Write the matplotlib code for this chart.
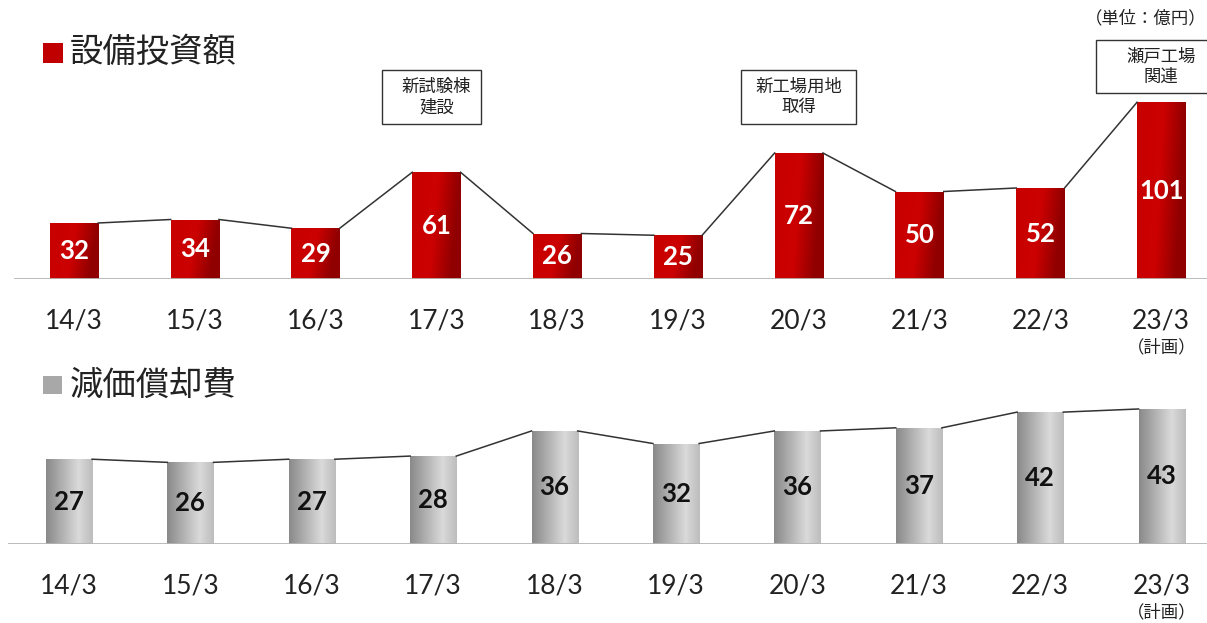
import numpy as np
import matplotlib
matplotlib.use('Agg')
import matplotlib.pyplot as plt
from matplotlib.colors import LinearSegmentedColormap
from matplotlib.patches import Rectangle

plt.rcParams['font.family'] = ['Noto Sans CJK JP', 'DejaVu Sans']

years = ['14/3', '15/3', '16/3', '17/3', '18/3', '19/3', '20/3', '21/3', '22/3', '23/3']
capex = [32, 34, 29, 61, 26, 25, 72, 50, 52, 101]
depreciation = [27, 26, 27, 28, 36, 32, 36, 37, 42, 43]
notes = {3: '新試験棟\n建設', 6: '新工場用地\n取得', 9: '瀬戸工場\n関連'}

W, H = 1207, 623
fig = plt.figure(figsize=(W / 100, H / 100), dpi=100)


def px_axes(left, base, right, height):
    # axes placed in pixel units measured from the top-left corner
    return fig.add_axes([left / W, 1 - base / H, (right - left) / W, height / H])


def px_rect(x0, y0, x1, y1, **kw):
    fig.patches.append(Rectangle((x0 / W, 1 - y1 / H), (x1 - x0) / W, (y1 - y0) / H,
                                 transform=fig.transFigure, **kw))


red_cmap = LinearSegmentedColormap.from_list(
    'red', [(0, '#c80000'), (0.55, '#cc0000'), (1, '#900000')])
gray_cmap = LinearSegmentedColormap.from_list(
    'gray', [(0, '#8a8a8a'), (0.7, '#dadada'), (1, '#bdbdbd')])


def gradient_bars(ax, values, width, cmap, shade):
    bars = ax.bar(range(len(values)), values, width=width, color='none', zorder=2)
    grad = np.tile(np.linspace(0, 1, 64), (64, 1))
    if shade:
        # slight darkening towards the bottom of each bar
        grad = np.clip(grad + np.linspace(0.2, 0, 64)[:, None], 0, 1)
    for b in bars:
        x0, y0 = b.get_x(), b.get_y()
        im = ax.imshow(grad, cmap=cmap, vmin=0, vmax=1, aspect='auto',
                       extent=(x0, x0 + b.get_width(), y0, y0 + b.get_height()),
                       origin='lower', zorder=2)
        im.set_clip_path(b)
    # thin connector lines between the tops of neighbouring bars
    for i in range(len(values) - 1):
        ax.plot([i + width / 2, i + 1 - width / 2], [values[i], values[i + 1]],
                color='#333333', lw=1.1, zorder=3)
    return bars


def style_axes(ax, xmax, ymax):
    ax.set_xlim(-0.5, xmax)
    ax.set_ylim(0, ymax)
    for s in ax.spines.values():
        s.set_visible(False)
    ax.axhline(0, color='#b4b4b4', lw=2, zorder=4)
    ax.set_yticks([])
    ax.set_xticks(range(len(years)), years)
    ax.tick_params(axis='x', length=0, pad=21, labelsize=19, labelcolor='#222222')
    for t in ax.get_xticklabels():
        t.set_fontfamily(['Lato', 'DejaVu Sans'])
    ax.annotate('（計画）', xy=(9, 0), xytext=(0, -49), textcoords='offset points',
                ha='center', va='center', fontsize=12.5, color='#222222')


def value_labels(ax, values, color):
    for i, v in enumerate(values):
        ax.text(i, v / 2, str(v), ha='center', va='center', color=color,
                fontsize=18.5, fontweight='bold', family=['Lato', 'DejaVu Sans'], zorder=5)


# capital expenditure
step_top = 120.8
ax1 = px_axes(74 - step_top / 2, 279, W, 120 * 1.75)
style_axes(ax1, (W - 74) / step_top, 120)
gradient_bars(ax1, capex, 0.4, red_cmap, True)
value_labels(ax1, capex, 'white')

# depreciation
step_bot = 121.4
ax2 = px_axes(69 - step_bot / 2, 544, W, 50 * 3.14)
style_axes(ax2, (W - 69) / step_bot, 50)
gradient_bars(ax2, depreciation, 0.38, gray_cmap, False)
value_labels(ax2, depreciation, '#111111')

# section headings
px_rect(43, 43, 63, 63, facecolor='#c00000', edgecolor='none')
fig.text(70 / W, 1 - 52 / H, '設備投資額', color='#222222', fontsize=24, va='center')
px_rect(43, 376, 62, 394, facecolor='#a8a8a8', edgecolor='none')
fig.text(70 / W, 1 - 385 / H, '減価償却費', color='#222222', fontsize=24, va='center')
fig.text(1207 / W, 1 - 18 / H, '（単位：億円）', ha='right', va='center',
         fontsize=12.5, color='#222222')

# note boxes above selected bars
boxes = {3: (382, 70, 481, 124), 6: (741, 70, 856, 124), 9: (1096, 40, 1230, 93)}
for i, text in notes.items():
    x0, y0, x1, y1 = boxes[i]
    px_rect(x0, y0, x1, y1, fill=False, edgecolor='#333333', lw=1.0)
    cx = ax1.transData.transform((i, 0))[0]
    fig.text(cx / W, 1 - (y0 + y1) / 2 / H, text, ha='center', va='center',
             fontsize=12.5, color='#222222', linespacing=1.2)

fig.savefig('out.png', dpi=100)
